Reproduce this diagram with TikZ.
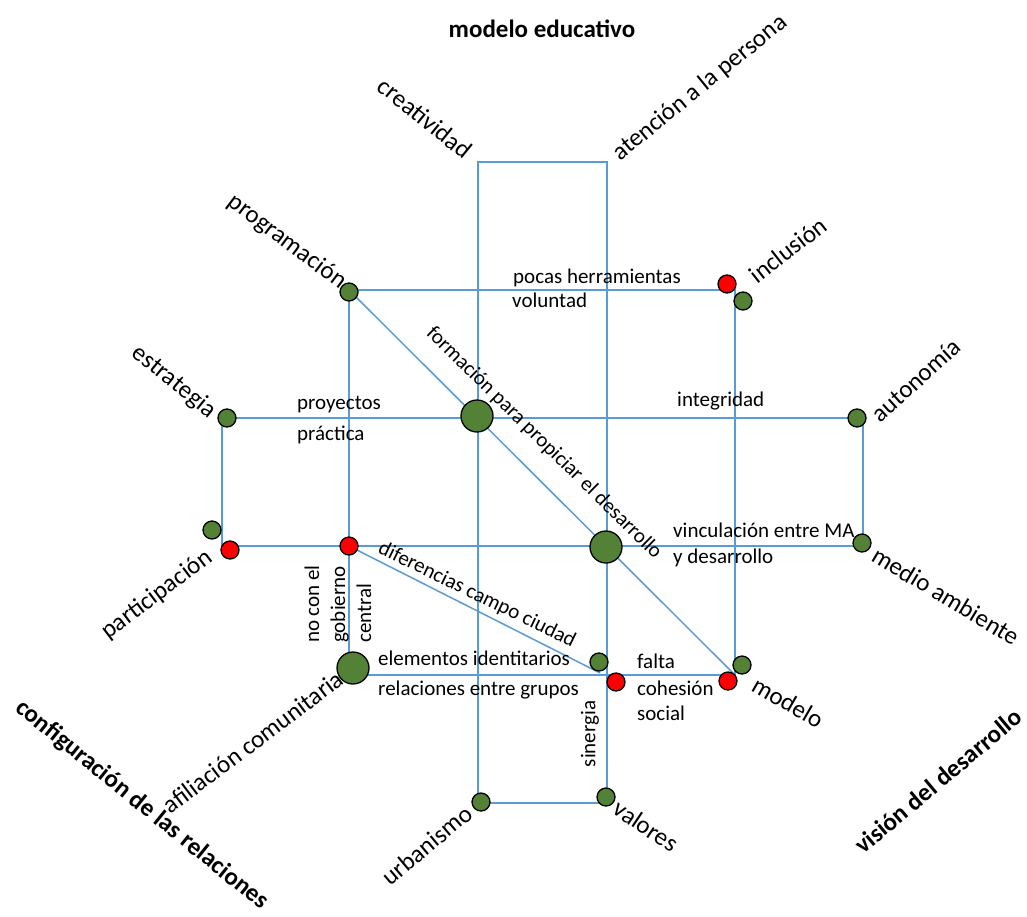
\documentclass[tikz,border=0pt]{standalone}
\usepackage{fontspec}
\setmainfont{Carlito}
\usepackage{tikz}
\definecolor{lineblue}{HTML}{5B9BD5}
\definecolor{nodegreen}{HTML}{538135}
\definecolor{nodered}{HTML}{FF0000}

\begin{document}
\begin{tikzpicture}[x=1pt, y=-1pt,
  link/.style={draw=lineblue, line width=2.6pt},
  diag/.style={draw=lineblue, line width=1.5pt},
  dot/.style={circle, draw=black, line width=1.3pt, fill=nodegreen, minimum size=18pt, inner sep=0pt},
  bigdot/.style={dot, minimum size=32pt},
  reddot/.style={dot, fill=nodered},
  inlabel/.style={font=\fontsize{21}{26}\selectfont, inner sep=0pt},
  outlabel/.style={font=\fontsize{25}{30}\selectfont, inner sep=0pt},
  axislabel/.style={font=\fontsize{25}{30}\selectfont\bfseries, inner sep=0pt}]
\useasboundingbox (0,0) rectangle (1027,916);

% corners of the three frames
\coordinate (tl) at (478,162);
\coordinate (tr) at (607,162);
\coordinate (bl) at (478,803);
\coordinate (br) at (607,803);
\coordinate (p1) at (349,290);
\coordinate (p3) at (735,675);
\coordinate (q1) at (222,418);
\coordinate (q3) at (863,546);
\coordinate (gobc) at (349,546);
\coordinate (difend) at (600,673);

\draw[link] (tl) -- (tr) -- (br) -- (bl) -- cycle;
\draw[link] (p1) rectangle (p3);
\draw[link] (q1) rectangle (q3);
\draw[diag] (p1) -- (p3);
\draw[diag] (gobc) -- (difend);

% dots
\node[dot] (prog) at (349,292) {};
\node[reddot] (inclR) at (727,284) {};
\node[dot] (inclG) at (743,301) {};
\node[dot] (estr) at (227,418) {};
\node[dot] (auto) at (857,418) {};
\node[bigdot] (formA) at (477,416) {};
\node[dot] (partG) at (212,530) {};
\node[reddot] (partR) at (230,550) {};
\node[reddot] (gobR) at (349,546) {};
\node[bigdot] (formB) at (606,547) {};
\node[dot] (medio) at (862,543) {};
\node[bigdot] (afil) at (353,668) {};
\node[dot] (sinG) at (599,662) {};
\node[reddot] (sinR) at (616,682) {};
\node[reddot] (modR) at (728,681) {};
\node[dot] (modG) at (742,665) {};
\node[dot] (urb) at (481,802) {};
\node[dot] (val) at (606,797) {};

% inner labels
\node[inlabel, anchor=base west] (tPocas) at (513,283) {pocas herramientas};
\node[inlabel, anchor=base west] (tVol) at (512,307) {voluntad};
\node[inlabel, anchor=base west] (tProy) at (297,409) {proyectos};
\node[inlabel, anchor=base west] (tPrac) at (297,440) {práctica};
\node[inlabel, anchor=base west] (tInteg) at (677,406) {integridad};
\node[inlabel, anchor=base west] (tVinc) at (673,537) {vinculación entre MA};
\node[inlabel, anchor=base west] (tYdes) at (673,563) {y desarrollo};
\node[inlabel, anchor=base west] (tElem) at (378,665) {elementos identitarios};
\node[inlabel, anchor=base west] (tRel) at (378,695) {relaciones entre grupos};
\node[inlabel, anchor=base west] (tFalta) at (637,668) {falta};
\node[inlabel, anchor=base west] (tCoh) at (637,695) {cohesión};
\node[inlabel, anchor=base west] (tSoc) at (637,720) {social};
\node[inlabel, rotate=90, align=left] (tGob) at (338,604) {no con el\\gobierno\\central};
\node[inlabel, rotate=90] (tSin) at (590,734) {sinergia};
\node[inlabel, rotate=-44.5] (tForm) at (544,443) {formación para propiciar el desarrollo};
\node[inlabel, rotate=-26] (tDif) at (477,595) {diferencias campo ciudad};

% outer labels
\node[outlabel, rotate=-39] (lCreat) at (425,118) {creatividad};
\node[outlabel, rotate=39] (lAten) at (700,88) {atención a la persona};
\node[outlabel, rotate=-37] (lProg) at (287,242) {programación};
\node[outlabel, rotate=38] (lIncl) at (788,250) {inclusión};
\node[outlabel, rotate=-39] (lEstr) at (174,382) {estrategia};
\node[outlabel, rotate=42] (lAuto) at (916,380) {autonomía};
\node[outlabel, rotate=37] (lPart) at (157,595) {participación};
\node[outlabel, rotate=-31] (lMedio) at (946,596) {medio ambiente};
\node[outlabel, rotate=37] (lAfil) at (253,742) {afiliación comunitaria};
\node[outlabel, rotate=40] (lUrb) at (427,845) {urbanismo};
\node[outlabel, rotate=-34] (lVal) at (646,826) {valores};
\node[outlabel, rotate=-30] (lMod) at (788,702) {modelo};

% axis titles
\node[axislabel] (aEduc) at (542,29) {modelo educativo};
\node[axislabel, rotate=-39] (aConf) at (142,805) {configuración de las relaciones};
\node[axislabel, rotate=40] (aVis) at (938,781) {visión del desarrollo};
\end{tikzpicture}
\end{document}
